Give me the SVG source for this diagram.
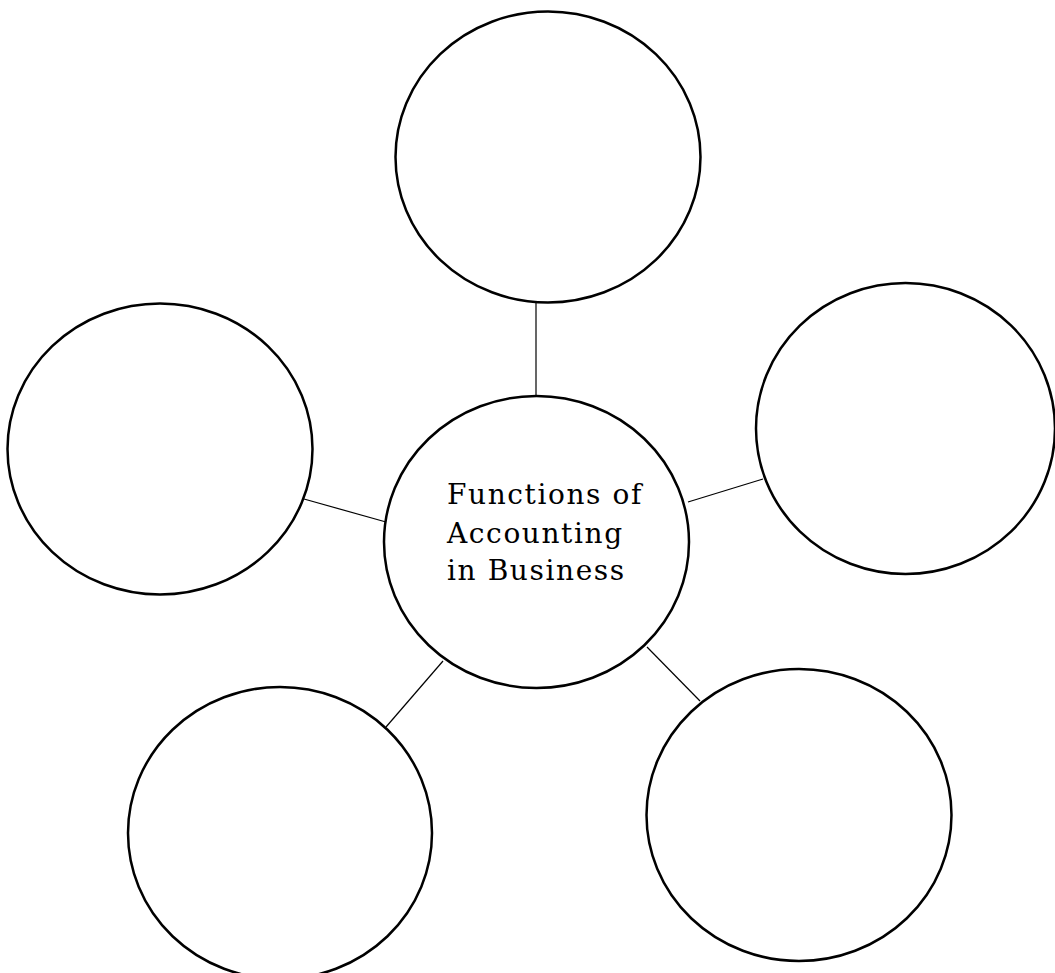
<svg xmlns="http://www.w3.org/2000/svg" width="1055" height="973" viewBox="0 0 1055 973">
  <style>
    .node { fill: #ffffff; stroke: #000000; stroke-width: 2.5; }
    .conn { stroke: #000000; stroke-width: 1.2; fill: none; }
    .label { font-family: "DejaVu Serif", "Liberation Serif", serif; font-size: 28px; letter-spacing: 1.6px; fill: #000000; }
  </style>
  <rect x="0" y="0" width="1055" height="973" fill="#ffffff"/>
  <g id="connectors">
    <line class="conn" x1="536" y1="303" x2="536" y2="396"/>
    <line class="conn" x1="304" y1="499" x2="386" y2="522"/>
    <line class="conn" x1="688" y1="502" x2="763" y2="479"/>
    <line class="conn" x1="443" y1="661" x2="386" y2="727"/>
    <line class="conn" x1="647" y1="647" x2="700" y2="701"/>
  </g>
  <g id="node-top">
    <ellipse class="node" cx="548" cy="157" rx="152.5" ry="145.5"/>
  </g>
  <g id="node-left">
    <ellipse class="node" cx="160" cy="449" rx="152.5" ry="145.5"/>
  </g>
  <g id="node-right">
    <ellipse class="node" cx="905.5" cy="428.5" rx="149.5" ry="145.5"/>
  </g>
  <g id="node-bottom-left">
    <ellipse class="node" cx="280" cy="833" rx="152" ry="146"/>
  </g>
  <g id="node-bottom-right">
    <ellipse class="node" cx="799" cy="815" rx="152.5" ry="146"/>
  </g>
  <g id="node-center">
    <ellipse class="node" cx="536.5" cy="542" rx="152.5" ry="146"/>
    <text class="label" x="447" y="504">Functions of</text>
    <text class="label" x="447" y="543">Accounting</text>
    <text class="label" x="447" y="580">in Business</text>
  </g>
</svg>
